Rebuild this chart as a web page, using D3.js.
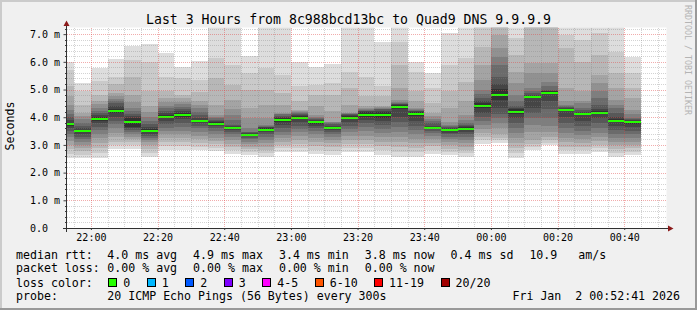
<!DOCTYPE html>
<html>
<head>
<meta charset="utf-8">
<script src="https://d3js.org/d3.v7.min.js"></script>
<style>
  body { margin: 0; background: #f0f0f0; }
  svg text { font-family: "DejaVu Sans Mono", monospace; white-space: pre; }
</style>
</head>
<body>
<svg width="697" height="310"></svg>
<script>
// start of each 5 minute step
var stepStarts = ["21:50", "21:55",
  "22:00", "22:05", "22:10", "22:15", "22:20", "22:25", "22:30", "22:35", "22:40", "22:45", "22:50", "22:55",
  "23:00", "23:05", "23:10", "23:15", "23:20", "23:25", "23:30", "23:35", "23:40", "23:45", "23:50", "23:55",
  "00:00", "00:05", "00:10", "00:15", "00:20", "00:25", "00:30", "00:35", "00:40"];

// median rtt per step (ms)
var medians = [3.75, 3.51, 3.94, 4.23, 3.81, 3.51, 4.02, 4.08, 3.87, 3.77, 3.62, 3.37, 3.55, 3.91, 3.99, 3.81,
  3.62, 3.99, 4.09, 4.09, 4.36, 4.13, 3.62, 3.54, 3.59, 4.42, 4.82, 4.20, 4.72, 4.89, 4.27, 4.13, 4.17, 3.88, 3.81];

// the 20 sorted pings of each step (ms)
var pings = [
  [2.52, 2.68, 2.85, 3.00, 3.14, 3.28, 3.40, 3.52, 3.62, 3.70, 3.80, 3.90, 4.00, 4.10, 4.25, 4.45, 4.75, 5.11, 5.71, 6.01],
  [2.52, 2.64, 2.77, 2.89, 3.00, 3.10, 3.20, 3.30, 3.39, 3.47, 3.55, 3.62, 3.70, 3.80, 3.92, 4.04, 4.15, 4.45, 4.93, 5.24],
  [2.54, 2.72, 2.90, 3.08, 3.24, 3.40, 3.54, 3.66, 3.78, 3.88, 4.00, 4.08, 4.16, 4.24, 4.34, 4.46, 4.60, 4.80, 5.30, 5.77],
  [2.84, 2.98, 3.12, 3.28, 3.44, 3.60, 3.74, 3.88, 4.02, 4.15, 4.31, 4.42, 4.50, 4.58, 4.66, 4.75, 4.87, 5.20, 5.47, 6.12],
  [2.86, 2.98, 3.10, 3.20, 3.30, 3.38, 3.46, 3.53, 3.60, 3.66, 3.96, 4.04, 4.12, 4.22, 4.33, 4.55, 4.81, 5.47, 6.07, 6.58],
  [2.58, 2.72, 2.86, 2.98, 3.09, 3.18, 3.26, 3.33, 3.40, 3.46, 3.56, 3.64, 3.74, 3.85, 4.00, 4.20, 4.39, 4.93, 6.00, 6.65],
  [2.82, 2.96, 3.10, 3.24, 3.38, 3.50, 3.62, 3.74, 3.86, 3.96, 4.08, 4.16, 4.24, 4.32, 4.42, 4.54, 4.70, 4.95, 5.47, 6.33],
  [2.82, 2.96, 3.10, 3.24, 3.38, 3.52, 3.66, 3.80, 3.92, 4.02, 4.14, 4.22, 4.30, 4.38, 4.46, 4.56, 4.68, 4.81, 5.41, 5.83],
  [2.82, 2.94, 3.06, 3.20, 3.34, 3.48, 3.60, 3.70, 3.78, 3.84, 3.90, 3.98, 4.08, 4.20, 4.32, 4.44, 4.57, 4.90, 5.35, 6.03],
  [2.78, 2.90, 3.02, 3.14, 3.26, 3.38, 3.50, 3.60, 3.68, 3.72, 3.82, 3.86, 3.90, 3.96, 4.02, 4.08, 4.45, 5.41, 6.13, 7.50],
  [2.68, 2.80, 2.92, 3.04, 3.16, 3.28, 3.38, 3.47, 3.54, 3.59, 3.65, 3.68, 3.72, 3.90, 4.08, 4.30, 4.63, 5.17, 5.89, 7.40],
  [2.64, 2.74, 2.84, 2.94, 3.04, 3.12, 3.20, 3.26, 3.31, 3.33, 3.41, 3.44, 3.46, 3.48, 3.60, 3.96, 4.33, 4.99, 5.59, 6.21],
  [2.58, 2.70, 2.82, 2.94, 3.06, 3.18, 3.28, 3.38, 3.46, 3.50, 3.60, 3.63, 3.66, 3.69, 3.72, 3.96, 4.45, 4.99, 5.77, 7.60],
  [2.76, 2.88, 3.00, 3.12, 3.24, 3.36, 3.48, 3.60, 3.72, 3.84, 3.98, 4.02, 4.06, 4.10, 4.12, 4.15, 4.45, 4.87, 5.53, 7.35],
  [2.76, 2.90, 3.04, 3.18, 3.32, 3.46, 3.58, 3.70, 3.82, 3.92, 4.06, 4.09, 4.12, 4.16, 4.20, 4.24, 4.27, 4.57, 5.11, 5.98],
  [2.68, 2.82, 2.96, 3.10, 3.24, 3.38, 3.50, 3.60, 3.68, 3.76, 3.86, 3.90, 3.94, 3.98, 4.02, 4.08, 4.39, 4.81, 5.17, 5.80],
  [2.64, 2.78, 2.92, 3.06, 3.18, 3.30, 3.40, 3.48, 3.54, 3.58, 3.66, 3.70, 3.74, 3.78, 3.81, 3.84, 4.21, 4.81, 5.23, 5.92],
  [2.76, 2.90, 3.04, 3.18, 3.32, 3.46, 3.58, 3.70, 3.82, 3.92, 4.06, 4.08, 4.10, 4.12, 4.14, 4.15, 4.45, 5.05, 5.65, 7.50],
  [2.74, 2.88, 3.02, 3.18, 3.34, 3.50, 3.64, 3.78, 3.90, 4.00, 4.18, 4.21, 4.24, 4.27, 4.30, 4.33, 4.39, 4.75, 5.47, 7.30],
  [2.64, 2.80, 2.96, 3.12, 3.28, 3.44, 3.58, 3.72, 3.86, 3.98, 4.20, 4.24, 4.28, 4.31, 4.33, 4.36, 4.39, 4.75, 5.11, 6.73],
  [2.58, 2.76, 2.94, 3.12, 3.30, 3.48, 3.66, 3.84, 4.02, 4.28, 4.44, 4.46, 4.48, 4.50, 4.56, 4.63, 5.05, 5.89, 6.73, 7.50],
  [2.58, 2.74, 2.90, 3.06, 3.22, 3.38, 3.54, 3.70, 3.86, 4.04, 4.20, 4.22, 4.24, 4.26, 4.28, 4.32, 4.57, 4.93, 5.65, 6.01],
  [2.68, 2.82, 2.96, 3.08, 3.20, 3.32, 3.42, 3.50, 3.56, 3.60, 3.64, 3.70, 3.78, 3.86, 3.94, 4.04, 4.15, 4.51, 5.05, 5.59],
  [2.62, 2.74, 2.86, 2.98, 3.10, 3.20, 3.30, 3.38, 3.44, 3.50, 3.58, 3.61, 3.64, 3.67, 3.72, 3.84, 4.33, 4.93, 5.89, 7.03],
  [2.58, 2.70, 2.82, 2.94, 3.06, 3.18, 3.30, 3.40, 3.48, 3.54, 3.64, 3.68, 3.72, 3.78, 3.90, 4.08, 4.57, 5.29, 6.13, 7.40],
  [3.02, 3.16, 3.30, 3.44, 3.58, 3.72, 3.86, 4.00, 4.14, 4.34, 4.50, 4.60, 4.70, 4.85, 5.00, 5.35, 5.89, 6.55, 7.40, 7.80],
  [3.06, 3.16, 3.26, 3.40, 3.60, 3.80, 3.96, 4.10, 4.32, 4.62, 5.02, 5.20, 5.45, 5.89, 6.19, 6.50, 6.97, 7.50, 7.90, 8.30],
  [2.54, 2.72, 2.90, 3.08, 3.26, 3.44, 3.62, 3.80, 3.98, 4.12, 4.28, 4.33, 4.40, 4.60, 4.81, 5.23, 5.65, 6.25, 6.85, 7.50],
  [2.82, 2.94, 3.05, 3.18, 3.48, 3.72, 3.97, 4.15, 4.33, 4.68, 4.76, 4.82, 4.88, 4.95, 5.05, 5.59, 5.95, 7.50, 7.80, 8.20],
  [3.00, 3.08, 3.18, 3.30, 3.48, 3.70, 3.96, 4.30, 4.57, 4.85, 4.93, 4.96, 4.99, 5.12, 5.29, 5.60, 5.95, 7.50, 7.90, 8.40],
  [2.68, 2.80, 2.94, 3.10, 3.26, 3.44, 3.62, 3.80, 4.00, 4.23, 4.31, 4.34, 4.37, 4.40, 4.45, 4.57, 5.05, 6.49, 6.97, 7.30],
  [2.68, 2.80, 2.92, 3.06, 3.20, 3.36, 3.52, 3.70, 3.88, 4.09, 4.17, 4.20, 4.25, 4.35, 4.51, 4.60, 4.93, 6.01, 6.79, 7.30],
  [2.76, 2.88, 3.00, 3.14, 3.28, 3.44, 3.60, 3.78, 3.96, 4.12, 4.22, 4.30, 4.45, 4.70, 4.93, 5.23, 5.53, 6.25, 7.03, 7.40],
  [2.58, 2.70, 2.84, 2.98, 3.12, 3.26, 3.40, 3.54, 3.68, 3.82, 3.94, 4.00, 4.15, 4.33, 4.45, 4.63, 5.05, 5.59, 6.37, 7.30],
  [2.64, 2.76, 2.88, 3.00, 3.12, 3.24, 3.38, 3.52, 3.64, 3.76, 3.86, 3.89, 3.92, 3.96, 4.10, 4.27, 4.69, 5.05, 5.59, 6.19]
];

var yTicks = [0, 1, 2, 3, 4, 5, 6, 7];

var rttStats = ["4.0 ms avg", "4.9 ms max", "3.4 ms min", "3.8 ms now", "0.4 ms sd", "10.9   am/s"];
var lossStats = ["0.00 % avg", "0.00 % max", "0.00 % min", "0.00 % now"];
var lossLabels = ["0", "1", "2", "3", "4-5", "6-10", "11-19", "20/20"];
var lossColors = ["#26ff00", "#00b8ff", "#0059ff", "#7e00ff", "#ff00ff", "#ff5500", "#ff0000", "#a10000"];
var probeText = "20 ICMP Echo Pings (56 Bytes) every 300s";
var stampText = "Fri Jan  2 00:52:41 2026";
var titleText = "Last 3 Hours from 8c988bcd13bc to Quad9 DNS 9.9.9.9";

// smoke shades, outermost pair of pings first
var smokeGrays = ["#dddddd", "#cacaca", "#b7b7b7", "#a4a4a4", "#919191", "#7e7e7e", "#6b6b6b", "#585858", "#454545", "#323232"];

var svg = d3.select("svg"),
    W = 697, H = 310;
var L = 66.5, R = 666.5, T = 27.5, B = 228;

// background + rrdtool style frame
svg.append("rect").attr("width", W).attr("height", H).attr("fill", "#f0f0f0");
svg.append("rect").attr("x", 0).attr("y", 0).attr("width", W).attr("height", 2).attr("fill", "#cbcbcb");
svg.append("rect").attr("x", 0).attr("y", 0).attr("width", 2).attr("height", H).attr("fill", "#cbcbcb");
svg.append("rect").attr("x", 0).attr("y", H - 2).attr("width", W).attr("height", 2).attr("fill", "#999999");
svg.append("rect").attr("x", W - 2).attr("y", 0).attr("width", 2).attr("height", H).attr("fill", "#999999");

svg.append("rect").attr("x", L).attr("y", T).attr("width", R - L).attr("height", B - T).attr("fill", "#ffffff");

svg.append("defs").append("clipPath").attr("id", "plotclip")
  .append("rect").attr("x", L).attr("y", T).attr("width", R - L).attr("height", B - T);

var t0 = new Date(Date.UTC(2026, 0, 1, 21, 52, 41)),
    t1 = new Date(Date.UTC(2026, 0, 2, 0, 52, 41));
var x = d3.scaleUtc().domain([t0, t1]).range([L, R]);
var y = d3.scaleLinear().domain([0, 7.24]).range([B, T]);

function toDate(s) {
  var h = +s.slice(0, 2), m = +s.slice(3, 5);
  return h >= 12 ? new Date(Date.UTC(2026, 0, 1, h, m)) : new Date(Date.UTC(2026, 0, 2, h, m));
}

var bars = stepStarts.map(function(s, i) {
  var a = toDate(s);
  return { a: a, b: d3.utcMinute.offset(a, 5), p: pings[i], m: medians[i] };
});

var plot = svg.append("g").attr("clip-path", "url(#plotclip)").attr("shape-rendering", "crispEdges");

// smoke: layer k spans ping k .. ping (21-k)
bars.forEach(function(d) {
  smokeGrays.forEach(function(c, k) {
    plot.append("rect")
      .attr("x", x(d.a))
      .attr("width", x(d.b) - x(d.a))
      .attr("y", y(d.p[19 - k]))
      .attr("height", y(d.p[k]) - y(d.p[19 - k]))
      .attr("fill", c);
  });
});

// median, coloured by loss (all 0 here)
plot.selectAll(".median")
  .data(bars)
  .enter().append("rect")
  .attr("class", "median")
  .attr("x", function(d) { return x(d.a); })
  .attr("width", function(d) { return x(d.b) - x(d.a); })
  .attr("y", function(d) { return y(d.m) - 1; })
  .attr("height", 2)
  .attr("fill", lossColors[0]);

// grid on top
var grid = svg.append("g").attr("shape-rendering", "crispEdges").attr("stroke-dasharray", "1,1");
var minorY = d3.range(1, 37).map(function(i) { return i / 5; }).filter(function(v) { return Math.abs(v - Math.round(v)) > 1e-6; });
grid.selectAll(".hmin").data(minorY).enter().append("line")
  .attr("x1", L).attr("x2", R)
  .attr("y1", function(d) { return Math.round(y(d)) + 0.5; })
  .attr("y2", function(d) { return Math.round(y(d)) + 0.5; })
  .attr("stroke", "rgba(130,130,130,0.35)");
var minorX = x.ticks(d3.utcMinute.every(5)).filter(function(d) { return d.getUTCMinutes() % 20 !== 0; });
grid.selectAll(".vmin").data(minorX).enter().append("line")
  .attr("y1", T).attr("y2", B)
  .attr("x1", function(d) { return Math.round(x(d)) + 0.5; })
  .attr("x2", function(d) { return Math.round(x(d)) + 0.5; })
  .attr("stroke", "rgba(130,130,130,0.35)");
grid.selectAll(".hmaj").data(yTicks.slice(1)).enter().append("line")
  .attr("x1", L).attr("x2", R)
  .attr("y1", function(d) { return Math.round(y(d)) + 0.5; })
  .attr("y2", function(d) { return Math.round(y(d)) + 0.5; })
  .attr("stroke", "rgba(225,70,70,0.45)");
var majorX = x.ticks(d3.utcMinute.every(20));
grid.selectAll(".vmaj").data(majorX).enter().append("line")
  .attr("y1", T).attr("y2", B)
  .attr("x1", function(d) { return Math.round(x(d)) + 0.5; })
  .attr("x2", function(d) { return Math.round(x(d)) + 0.5; })
  .attr("stroke", "rgba(225,70,70,0.45)");

// axes
var xAxis = svg.append("g")
  .attr("transform", "translate(0," + B + ")")
  .call(d3.axisBottom(x).ticks(d3.utcMinute.every(20)).tickFormat(d3.utcFormat("%H:%M"))
    .tickSizeInner(2).tickSizeOuter(0).tickPadding(4));
xAxis.select(".domain").remove();
xAxis.selectAll(".tick line").attr("stroke", "#404040");
xAxis.selectAll("text").attr("font-size", "10px").attr("fill", "#000").attr("font-family", "DejaVu Sans Mono");

var yAxis = svg.append("g")
  .attr("transform", "translate(" + L + ",0)")
  .call(d3.axisLeft(y).tickValues(yTicks)
    .tickFormat(function(d) { return d === 0 ? "0.0" : d3.format(".1f")(d) + " m"; })
    .tickSizeInner(3).tickSizeOuter(0));
yAxis.select(".domain").remove();
yAxis.selectAll(".tick line").attr("stroke", "#404040");
yAxis.selectAll("text").attr("font-size", "10px").attr("fill", "#000").attr("font-family", "DejaVu Sans Mono")
  .attr("text-anchor", "start").attr("x", 30 - L);

// small ticks for minor y grid
svg.selectAll(".ymt").data(minorY).enter().append("line")
  .attr("x1", L - 2).attr("x2", L)
  .attr("y1", function(d) { return Math.round(y(d)) + 0.5; })
  .attr("y2", function(d) { return Math.round(y(d)) + 0.5; })
  .attr("stroke", "#404040").attr("shape-rendering", "crispEdges");

svg.append("line").attr("x1", L - 4).attr("x2", R + 2).attr("y1", B + 0.5).attr("y2", B + 0.5)
  .attr("stroke", "#303030").attr("shape-rendering", "crispEdges");
svg.append("line").attr("x1", L).attr("x2", L).attr("y1", B + 4).attr("y2", T - 4)
  .attr("stroke", "#303030").attr("shape-rendering", "crispEdges");
svg.append("path").attr("d", "M" + (L - 3) + "," + (T - 1.5) + "L" + (L + 3) + "," + (T - 1.5) + "L" + L + "," + (T - 7) + "Z")
  .attr("fill", "#8b1a1a");
svg.append("path").attr("d", "M" + (R + 1.5) + "," + (B - 2.5) + "L" + (R + 1.5) + "," + (B + 3.5) + "L" + (R + 7) + "," + (B + 0.5) + "Z")
  .attr("fill", "#8b1a1a");

// title and side labels
svg.append("text").attr("x", 348.5).attr("y", 23.5).attr("text-anchor", "middle")
  .attr("font-size", "13.2px").attr("fill", "#000").text(titleText);
svg.append("text").attr("transform", "translate(14,126) rotate(-90)").attr("text-anchor", "middle")
  .attr("font-size", "11.6px").attr("fill", "#000").text("Seconds");
svg.append("text").attr("transform", "translate(684.5,5) rotate(90)").attr("text-anchor", "start")
  .attr("font-size", "8.3px").attr("fill", "#b4b4b4").text("RRDTOOL / TOBI OETIKER");

// legend
var FS = "11.6px", gap = 16, col = 107.3;
function row(yc, label) {
  svg.append("text").attr("x", 16).attr("y", yc + 4.2).attr("font-size", FS).attr("fill", "#000").text(label);
}
function items(yc, list) {
  var cx = col;
  list.forEach(function(s) {
    var t = svg.append("text").attr("x", cx).attr("y", yc + 4.2).attr("font-size", FS).attr("fill", "#000").text(s);
    cx += t.node().getComputedTextLength() + gap;
  });
}
row(254.3, "median rtt:");
items(254.3, rttStats);
row(267.7, "packet loss:");
items(267.7, lossStats);
row(282.3, "loss color:");
var cx = col;
lossLabels.forEach(function(s, i) {
  svg.append("rect").attr("x", cx + 1.5).attr("y", 278.5).attr("width", 8).attr("height", 8)
    .attr("fill", lossColors[i]).attr("stroke", "#000").attr("stroke-width", 1).attr("shape-rendering", "crispEdges");
  var t = svg.append("text").attr("x", cx + 16).attr("y", 282.3 + 4.2).attr("font-size", FS).attr("fill", "#000").text(s);
  cx += 16 + t.node().getComputedTextLength() + 15.5;
});
row(295.7, "probe:");
svg.append("text").attr("x", col).attr("y", 295.7 + 4.2).attr("font-size", FS).attr("fill", "#000").text(probeText);
svg.append("text").attr("x", 680).attr("y", 295.7 + 4.2).attr("text-anchor", "end").attr("font-size", FS).attr("fill", "#000").text(stampText);
</script>
</body>
</html>
